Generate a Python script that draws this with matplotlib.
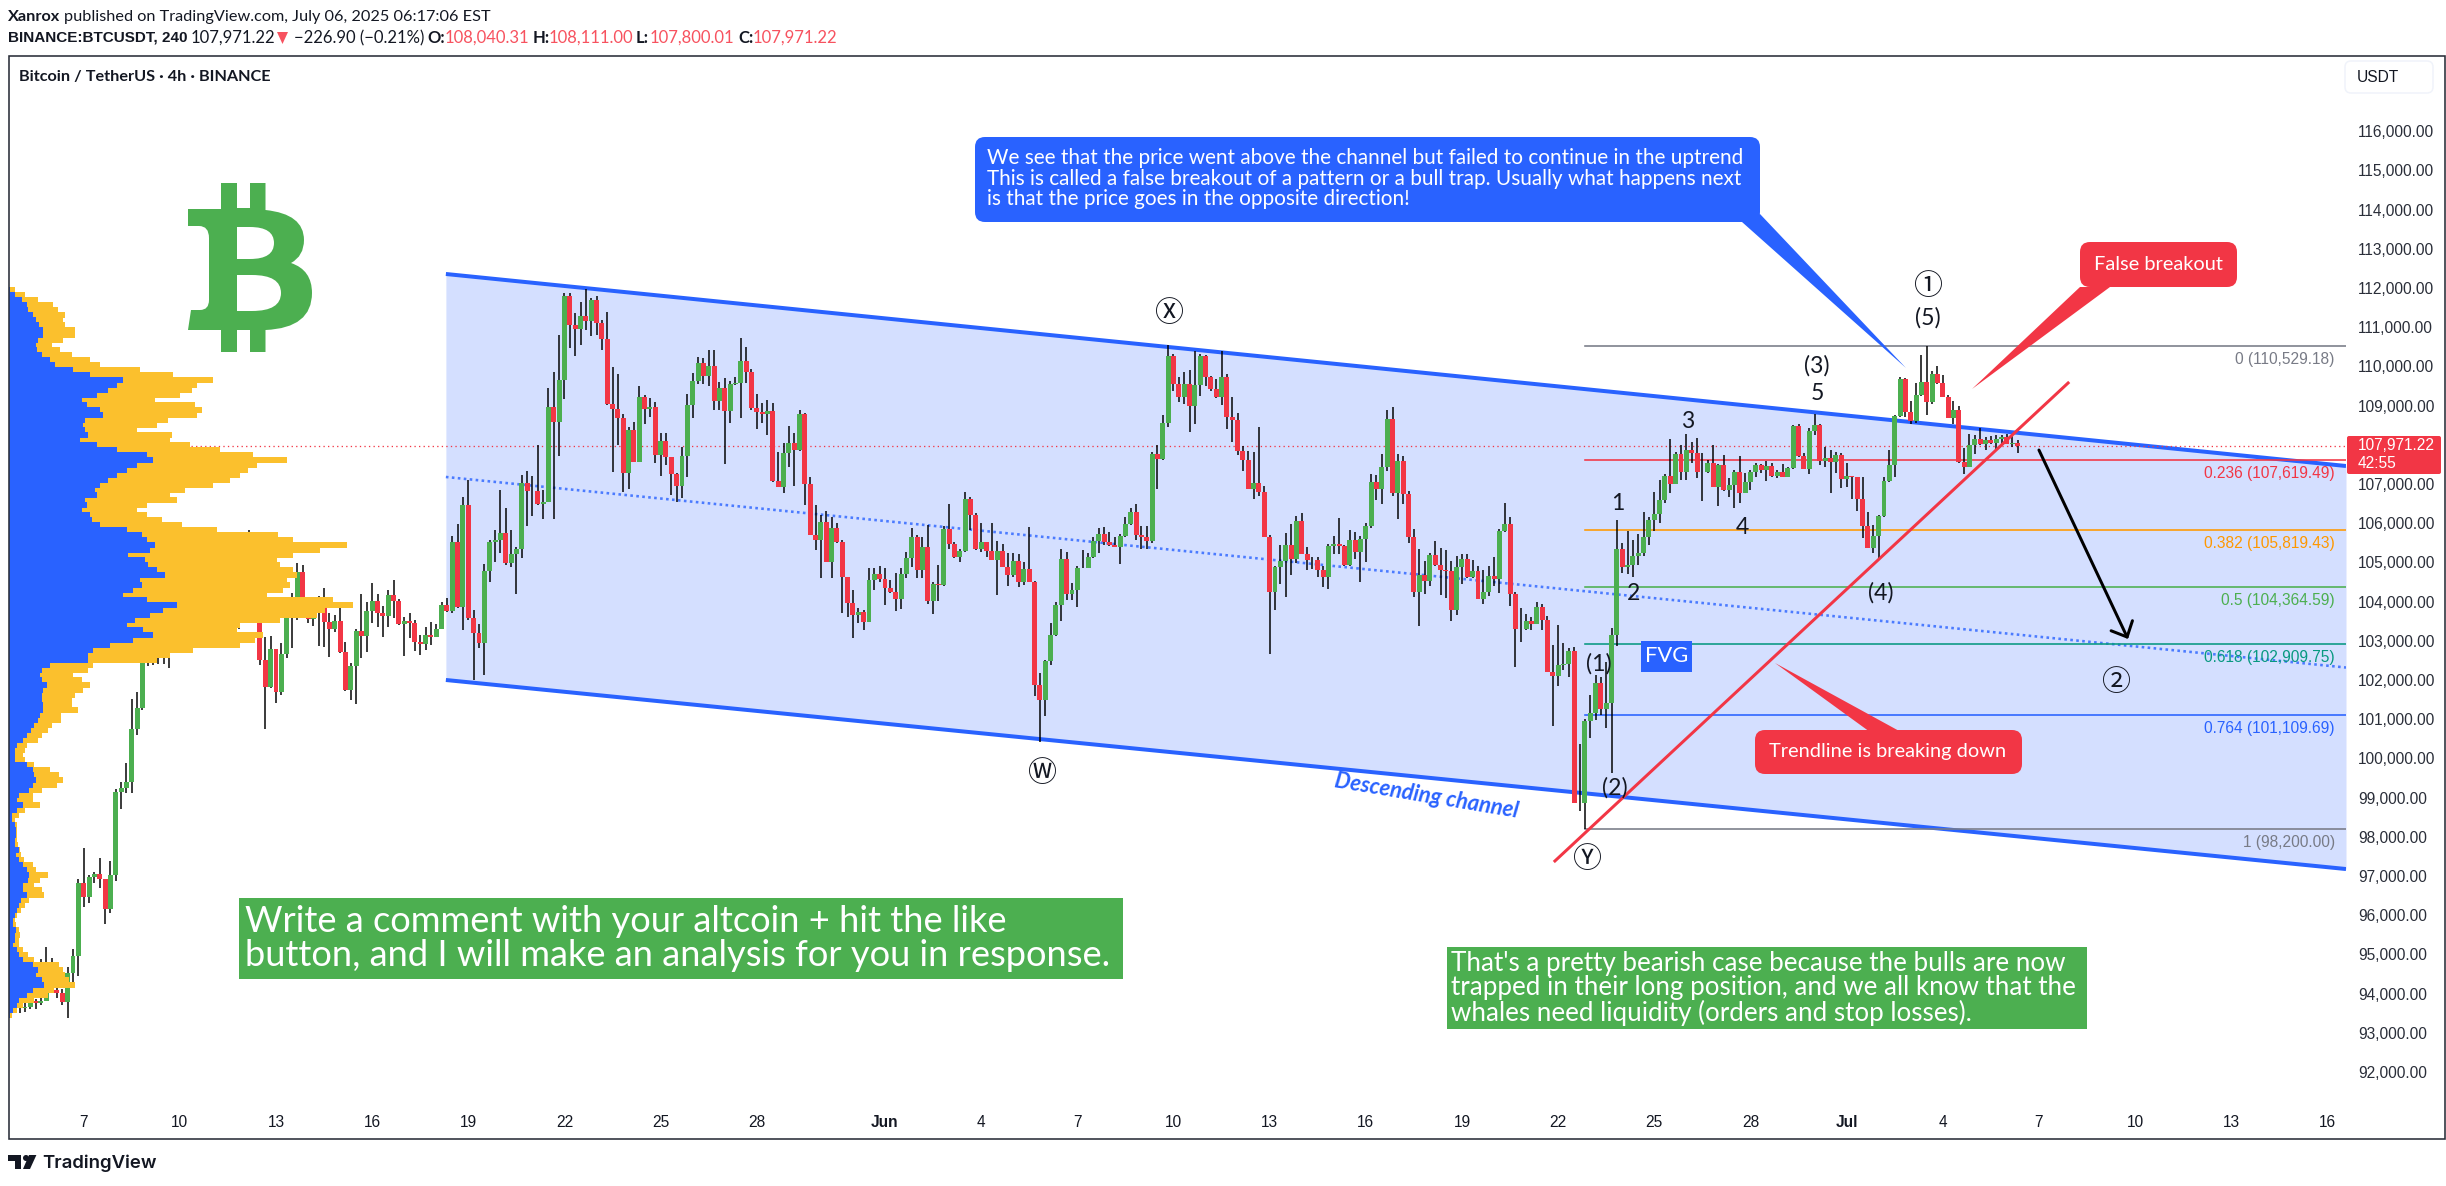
import numpy as np
import matplotlib
matplotlib.use("Agg")
import matplotlib.pyplot as plt
from matplotlib.patches import FancyBboxPatch, Polygon, Rectangle, PathPatch, Circle
from matplotlib.path import Path

# ---------- data: 4h candles, first bar = 5 May (day 4, with 1 May = day 0)
first_day = 4.0
first_open = 93700
close = [
93625,93667,93800,93752,93812,94177,94090,94007,93795,94534,
94960,96830,96473,96975,97051,96915,96150,97017,99135,99237,
99390,100742,101278,102468,102700,103000,103300,103000,102900,103400,
103600,104000,103900,104000,103800,104200,104300,104500,104700,104400,
103900,103700,104200,105000,104800,102510,101830,102791,101703,102664,
103616,104067,104764,104067,103557,103701,103828,103488,103301,103505,
102723,101745,102357,103250,103131,103761,104016,103701,103641,104169,
104024,103429,103505,103446,102978,102927,103148,103097,103301,103914,
103769,105512,103871,106464,103590,103208,102953,104781,105512,105563,
105742,104993,105214,105333,107017,106830,106830,106490,106541,108964,
108590,109644,111796,111047,110954,111286,111158,111694,111098,110707,
109041,108913,108692,107289,108377,107570,109219,108922,108964,107740,
108097,107680,107246,106957,107714,109015,109627,110078,109763,110010,
109126,109440,108871,109551,109576,110138,109866,108930,108837,108794,
108862,107076,106932,107782,108037,107867,108786,107008,105699,105571,
106030,105019,105869,105529,104619,103973,103667,103735,103488,104543,
104704,104577,104355,104245,104067,104696,105104,105640,104806,105393,
104016,104449,104424,105860,105461,105129,105291,106617,106209,105350,
105520,105291,105061,105291,104891,104679,105027,104509,104832,104509,
101873,101490,102485,103148,103913,105087,104203,104296,104866,104860,
105129,105546,105724,105529,105452,105401,105673,105971,106286,105699,
105636,105554,107758,107631,108551,110264,109553,109207,109553,108988,
109526,110264,109717,109417,109216,109726,108715,108642,107850,107622,
106884,107030,106784,105654,104251,104880,105026,105445,105089,106046,
105226,105071,105050,104816,104634,105408,105463,105408,104934,105572,
105271,105590,105936,107048,106866,107431,108660,106775,107585,106756,
105636,104242,104679,104533,105180,104943,104816,104770,103796,104871,
105080,104634,104770,104078,104242,104652,104588,105800,105973,104205,
103295,103290,103495,103440,103859,103541,102201,102110,102384,102402,
102739,98867,98867,100950,101150,101915,101260,101405,103148,105342,
104891,104925,105155,105240,105648,106082,106243,106592,107204,107000,
107765,107315,107867,107799,107315,107306,107527,106932,107485,106847,
106974,107306,106779,107043,107306,107485,107357,107459,107204,107298,
107187,107400,108480,107723,107383,108343,108505,107595,107663,107570,
107740,107128,107204,107187,106609,105929,105376,105674,106184,107068,
107485,108735,109678,108845,108607,109270,109602,109100,109806,109568,
109228,108692,108888,107553,107442,107995,108148,108020,108122,108054,
108148,108190,108020,108037,107971.22]
high = [
93837,93800,93900,93870,94875,95181,94900,94300,94126,94690,
95130,96915,97706,97026,97100,97451,96920,97383,99211,99407,
99891,101507,101694,102900,103300,103400,103700,103500,103400,103700,
104000,104300,104400,104300,104100,104500,104600,104800,104900,104800,
104500,104100,104500,105827,105500,105000,103106,103123,102791,102940,
103660,104210,104976,104925,104126,103828,104143,104339,103701,103659,
103871,102961,102425,103300,104194,104000,104466,104194,103888,104296,
104551,104058,103616,103718,103531,103148,103361,103488,103421,104000,
104084,105674,105980,106660,107102,103786,103429,104960,105572,105830,
106847,106379,105827,105401,107230,107340,107204,107995,106847,109440,
109865,110801,111881,111864,111354,111651,111974,111736,111796,111183,
111388,109976,109806,108786,108462,108573,109500,109270,109185,109100,
108293,108309,107697,107272,107952,109296,109823,110248,110206,110418,
110418,109610,109695,109636,109738,110716,110486,109925,109296,109075,
109143,109058,107825,108037,108480,108293,108888,108820,107170,106464,
106209,106311,106167,105997,105571,104636,104296,103829,103798,104849,
104849,104908,104849,104551,104722,104849,105274,105886,105699,105657,
105954,104509,104934,105937,106490,105529,105333,106787,106660,106269,
105997,105529,105997,105546,105469,105231,105231,105214,105019,105911,
104526,102170,102510,103445,103999,105333,105274,104466,104908,105316,
105231,105656,105869,105895,105784,105657,105716,106167,106379,106490,
105936,105936,107822,108004,108761,110537,110328,109735,109854,109899,
110391,110328,110282,109754,109672,110391,109799,109216,108806,107977,
107841,107813,108460,106939,105700,104907,105454,105754,105973,106183,
106255,105390,105135,105135,104907,105472,105681,106137,105454,105818,
105772,105681,106000,107248,107230,107777,108888,108961,107758,107713,
106820,105845,105344,105044,105244,105545,105363,105317,105044,105162,
105208,105208,105062,104907,104816,104907,105135,105864,106520,106155,
104242,103841,103677,103604,103996,103932,103632,102903,103404,102948,
102812,102830,100370,101000,101617,102128,102085,102468,103318,106082,
105486,105801,105572,105716,106277,106167,106787,107102,107246,108139,
107825,107995,108275,108080,108165,107782,107612,107995,107510,107740,
107145,107357,107714,107272,107357,107527,107510,107595,107527,107357,
107510,107442,108505,108531,107799,108420,108786,108531,107952,107867,
107825,107782,107544,107204,107187,107170,106294,105954,106209,107170,
107867,108760,109738,109695,109126,109568,110291,110529,109891,110010,
109780,109270,109117,108990,107910,108267,108250,108420,108207,108224,
108250,108250,108275,108224,108111]
low = [
93514,93540,93600,93620,93700,93960,94007,93900,93710,93387,
94280,94450,96218,96320,96830,96703,95776,96065,96880,98718,
99109,99109,100597,101240,102357,102380,102400,102400,102298,102800,
103200,103500,103600,103700,103500,103700,104000,104100,104300,104100,
103400,103300,103600,104000,104500,102383,100742,101788,101422,101618,
102553,102825,103531,103700,103463,103386,102868,102851,102596,103235,
102698,101720,101490,101388,102553,102723,103446,103361,103106,103361,
103574,103404,102613,103063,102740,102638,102765,102893,103106,103293,
103744,103718,103846,103276,103530,102000,102808,102128,104509,105002,
105231,104934,104874,104194,105104,105929,106184,106464,106099,106532,
106107,107723,109168,110461,110265,110546,110928,110775,110801,110418,
109016,107315,107995,106804,106881,107553,107553,108531,108718,107527,
107204,107485,106719,106549,106634,107187,108692,109551,109542,109500,
108888,108888,107510,108565,109525,108675,109568,108888,108394,108548,
108250,107060,106915,106779,107425,106949,107850,106464,105699,105316,
104610,105019,104610,105486,103701,103616,103080,103446,103276,103488,
104296,104509,103913,104211,103769,103803,104594,104891,104594,104594,
103939,103675,104016,104407,105350,105121,105019,105265,105827,105316,
105274,105129,105061,104169,104891,104398,104636,104381,104424,104509,
101592,100420,101082,102383,103131,103514,104041,104041,103871,104849,
104849,105104,105248,105444,105418,105384,104959,105657,105954,105571,
105344,105344,105499,106884,107622,108460,109371,109098,109052,108323,
108533,109253,109508,109371,109189,109007,108414,108068,107731,107340,
106866,106610,106684,105636,102675,103786,104452,104114,104679,104980,
105208,104798,104843,104616,104360,104315,105208,105208,104907,104907,
105089,104497,104998,105882,106592,106501,107321,106702,106119,106501,
105499,104114,103386,104206,104388,104907,104178,104087,103513,103659,
104452,104607,104606,104060,103950,104151,104406,104224,105772,103887,
102338,102967,103267,103267,103431,103267,102201,100835,101855,102265,
102083,98850,98666,98200,100512,100980,101107,100767,99619,102876,
104738,104704,104636,104934,105163,105444,105810,105997,106507,106762,
107000,107102,107102,107527,107145,106575,107272,106915,106439,106830,
106677,106379,106507,106779,106847,107187,107272,107085,107187,107145,
107170,107187,107383,107697,107374,107255,108250,107485,107442,106762,
107272,106906,106932,106617,106320,105631,105359,105248,105087,106167,
107043,107187,108701,108701,108531,108565,109245,108760,109041,109551,
109211,108675,108531,107527,107255,107425,107765,107995,107867,108020,
107867,107995,108012,107952,107800]

# volume profile, one row per price bin (blue = buy side width, total = blue + yellow)
vp_top_price = 111949
vp_step = 127.55
vp_blue = [
1,6,13,18,19,24,27,30,34,34,29,27,28,33,41,46,64,81,114,108,
99,88,73,78,91,94,76,74,76,79,71,88,108,138,144,128,118,108,99,91,
86,88,76,78,73,81,83,91,118,133,138,146,141,119,136,139,148,156,131,133,
124,114,138,168,154,141,126,118,134,144,124,101,84,79,79,41,33,31,33,38,
34,33,33,34,34,31,29,25,22,18,14,8,6,6,6,18,24,25,27,24,
20,10,8,14,8,3,3,6,7,7,6,6,10,7,10,14,18,20,19,14,
14,18,12,10,8,6,4,4,7,6,6,4,8,10,14,24,29,27,33,35,
24,18,10,8,4,1]
vp_total = [
6,16,29,44,49,56,54,56,66,66,54,43,51,63,81,91,131,164,204,188,
183,171,146,186,193,188,159,148,128,163,161,181,211,244,278,248,239,231,221,204,
176,161,168,138,128,138,153,173,208,269,284,338,311,284,268,271,284,288,278,281,
274,258,324,344,316,308,271,231,228,254,246,231,184,161,148,84,79,64,73,81,
74,66,63,63,69,52,52,43,39,33,29,18,16,14,16,25,41,50,54,48,
33,24,24,31,16,10,6,8,8,8,8,9,11,12,15,24,27,39,31,25,
33,35,20,16,12,8,6,7,10,11,10,10,14,19,25,50,54,56,60,66,
45,39,25,14,8,3]

# channel and drawing anchors (day, price)
channel_days = [17.30, 76.58]
channel_upper = [112357, 107459]
channel_mid = [107179, 102318]
channel_lower = [102000, 97178]
trend_days = [51.9, 67.91]
trend_prices = [97383, 109577]
forecast_days = [67.0, 69.78]
forecast_prices = [107867, 103046]

fib_start_day = 52.84
fib_levels = [110529.18, 107619.49, 105819.43, 104364.59, 102909.75, 101109.69, 98200.00]
fib_ratios = ["0", "0.236", "0.382", "0.5", "0.618", "0.764", "1"]
fib_colors = ["#787B86", "#F23645", "#FF9800", "#4CAF50", "#089981", "#2962FF", "#787B86"]

last_price = 107971.22
price_ticks = [p for p in range(92000, 117000, 1000) if p != 108000]
date_tick_days = [6, 9, 12, 15, 18, 21, 24, 27, 31, 34, 37, 40, 43, 46, 49, 52, 55, 58, 61, 64, 67, 70, 73, 76]
date_tick_labels = ["7", "10", "13", "16", "19", "22", "25", "28", "Jun", "4", "7", "10", "13", "16", "19", "22", "25", "28", "Jul", "4", "7", "10", "13", "16"]

# ---------- style
GREEN, RED, BLUE = "#4CAF50", "#F23645", "#2962FF"
YELLOW = "#FBC02D"
DARK = "#131722"
UI = "Liberation Sans"
NOTE = "Lato"
px = 0.72  # points per pixel at dpi 100

fig = plt.figure(figsize=(24.46, 11.86), dpi=100, facecolor="white")
W, H = 2446, 1186
pos = [9 / W, 1 - 1139 / H, (2346 - 9) / W, (1139 - 56) / H]
ax = fig.add_axes(pos, zorder=1)
ax.set_xlim(3.67, 76.58)
ax.set_ylim(90291, 117918)
for s in ax.spines.values():
    s.set_visible(False)
ax.set_xticks(date_tick_days, date_tick_labels)
ax.set_yticks(price_ticks, [f"{p:,.2f}" for p in price_ticks])
ax.tick_params(axis="x", length=0, pad=-24 * px, labelsize=15.5 * px, labelcolor=DARK)
ax.tick_params(axis="y", length=0, pad=12 * px, labelsize=15.5 * px, labelcolor="#2A2E39",
               labelleft=False, labelright=True)
for t in ax.get_xticklabels() + ax.get_yticklabels():
    t.set_fontfamily(UI)
for t in ax.get_xticklabels():
    if t.get_text() in ("Jun", "Jul"):
        t.set_fontweight("bold")

# channel
ax.fill_between(channel_days, channel_lower, channel_upper, color=BLUE, alpha=0.2, lw=0, zorder=1)
ax.plot(channel_days, channel_upper, color=BLUE, lw=4 * px, zorder=2, solid_capstyle="butt")
ax.plot(channel_days, channel_lower, color=BLUE, lw=4 * px, zorder=2, solid_capstyle="butt")
ax.plot(channel_days, channel_mid, color=BLUE, lw=2.6 * px, ls=(0, (1, 1.3)), alpha=0.8, zorder=2)

# current price
ax.axhline(last_price, color=RED, lw=1.3 * px, ls=(0, (1, 2.5)), zorder=2)

# fib levels
for lvl, ratio, col in zip(fib_levels, fib_ratios, fib_colors):
    ax.plot([fib_start_day, 76.58], [lvl, lvl], color=col, lw=1.6 * px, zorder=2)
    ax.annotate(f"{ratio} ({lvl:,.2f})", (76.23, lvl), xytext=(0, -13.5 * px), textcoords="offset points",
                ha="right", va="center", color=col, fontsize=15.5 * px, family=UI, zorder=3)

# candles
c = np.array(close, dtype=float)
o = np.r_[first_open, c[:-1]]
days = first_day + np.arange(len(c)) / 6
up = c >= o
ax.vlines(days, low, high, color="black", lw=1.5 * px, zorder=3)
ax.bar(days, c - o, bottom=o, width=0.155, color=np.where(up, GREEN, RED), lw=0, zorder=4)

# trend line, forecast arrow
ax.plot(trend_days, trend_prices, color=RED, lw=3 * px, zorder=5)
ax.annotate("", xy=(forecast_days[1], forecast_prices[1]), xytext=(forecast_days[0], forecast_prices[0]),
            arrowprops=dict(arrowstyle="->,head_length=0.9,head_width=0.85", color="black", lw=3 * px,
                            shrinkA=0, shrinkB=0), zorder=6)

# volume profile above the candles
vp = fig.add_axes(pos, zorder=2, sharey=ax)
vp.patch.set_visible(False)
vp.axis("off")
vp.set_xlim(0, 2337)
vp_prices = vp_top_price - vp_step * np.arange(len(vp_blue))
vp.barh(vp_prices, vp_total, height=vp_step * 1.02, color=YELLOW, lw=0)
vp.barh(vp_prices, vp_blue, height=vp_step * 1.02, color=BLUE, lw=0)

# ---------- overlay in pixel coordinates
ov = fig.add_axes([0, 0, 1, 1], zorder=3)
ov.set_xlim(0, W)
ov.set_ylim(H, 0)
ov.axis("off")
ov.patch.set_visible(False)

ov.add_patch(Rectangle((9, 55.5), 2436, 1083.5, fill=False, ec="#2A2E39", lw=1.6 * px))

def T(x, y, s, size, color=DARK, family=NOTE, weight="normal", ha="left", va="center", **kw):
    return ov.text(x, y, s, fontsize=size * px, color=color, family=family, fontweight=weight, ha=ha, va=va, **kw)

# header
T(8, 17, "Xanrox", 16.3, family=NOTE, weight="bold")
T(64, 17, "published on TradingView.com, July 06, 2025 06:17:06 EST", 16.3, family=NOTE)
T(8, 38, "BINANCE:BTCUSDT, 240", 15.3, family=UI, weight="bold")
T(191, 38, "107,971.22", 16.6, family=NOTE)
ov.add_patch(Polygon([(277, 32), (288, 32), (282.5, 44)], color="#F7525F", lw=0))
T(294, 38, "\u2212226.90 (\u22120.21%)", 16.6, family=NOTE)
for xl, lab, xv, val in [(427, "O:", 445, "108,040.31"), (533, "H:", 549, "108,111.00"),
                         (636, "L:", 650, "107,800.01"), (738, "C:", 753, "107,971.22")]:
    T(xl, 38, lab, 16.6, family=NOTE, weight="bold")
    T(xv, 38, val, 16.6, color="#F7525F", family=NOTE)
T(19, 77, "Bitcoin / TetherUS \u00b7 4h \u00b7 BINANCE", 16.2, family=NOTE, weight="bold")

# USDT button
ov.add_patch(FancyBboxPatch((2345, 61), 88, 32, boxstyle="round,pad=0,rounding_size=6", fc="white", ec="#F0F3FA", lw=1.5 * px))
T(2357, 77, "USDT", 15.5, family=UI)

# last price tag
ov.add_patch(FancyBboxPatch((2347, 436), 94, 38, boxstyle="round,pad=0,rounding_size=2", fc=RED, ec="none"))
T(2358, 446, "107,971.22", 15.5, color="white", family=UI)
T(2358, 464, "42:55", 15.5, color="white", family=UI)

# bitcoin logo
V, C3, Z = Path.MOVETO, Path.CURVE3, Path.CLOSEPOLY
L = Path.LINETO
verts = [(188,209),(221,209),(221,183),(237,183),(237,208),(250,208),(250,183),(265.5,183),(265.5,210)]
codes = [V] + [L] * 8
verts += [(304,214),(304,240),(304,256),(291,263),(312,270),(312,293),(312,328),(265.5,330)]
codes += [C3] * 8
verts += [(265.5,352),(250,352),(250,330),(237,330),(237,352),(221,352),(221,330),(188,330),(191,310),(200,310)]
codes += [L] * 10
verts += [(209,310),(209,300),(209,238),(209,226),(199,226),(188,226),(188,209),(188,209)]
codes += [C3, C3, L, C3, C3, L, L, Z]
verts += [(237,227),(237,259),(250,259),(274,259),(274,243),(274,227),(250,227),(237,227),(237,227)]
codes += [V, L, L, C3, C3, C3, C3, L, Z]
verts += [(237,275),(237,311),(252,311),(281,311),(281,293),(281,275),(252,275),(237,275),(237,275)]
codes += [V, L, L, C3, C3, C3, C3, L, Z]
ov.add_patch(PathPatch(Path(verts, codes), fc=GREEN, ec="none"))

# callouts
def box(x0, y0, x1, y1, col, r=10):
    ov.add_patch(FancyBboxPatch((x0, y0), x1 - x0, y1 - y0, boxstyle=f"round,pad=0,rounding_size={r}", fc=col, ec="none"))

box(975, 137, 1760, 222, BLUE)
ov.add_patch(Polygon([(1906, 368), (1760, 214), (1742, 222)], color=BLUE, lw=0))
for yy, s in zip((158, 179, 199), ("We see that the price went above the channel but failed to continue in the uptrend",
                                   "This is called a false breakout of a pattern or a bull trap. Usually what happens next",
                                   "is that the price goes in the opposite direction!")):
    T(987, yy, s, 20.8, color="white")

box(2080, 242, 2237, 287, RED)
ov.add_patch(Polygon([(1972, 389), (2080, 287), (2110, 287)], color=RED, lw=0))
T(2158, 264, "False breakout", 20, color="white", ha="center")

box(1755, 730, 2022, 774, RED)
ov.add_patch(Polygon([(1775, 663), (1870, 732), (1901, 732)], color=RED, lw=0))
T(1888, 752, "Trendline is breaking down", 20, color="white", ha="center")

ov.add_patch(Rectangle((1641, 641), 51, 31, color=BLUE, lw=0))
T(1666.5, 656, "FVG", 22, color="white", ha="center")

ov.add_patch(Rectangle((239, 898), 884, 81, color=GREEN, lw=0))
T(245, 921, "Write a comment with your altcoin + hit the like", 36.3, color="white")
T(245, 956, "button, and I will make an analysis for you in response.", 36.3, color="white")

ov.add_patch(Rectangle((1447, 947), 640, 82, color=GREEN, lw=0))
for yy, s in zip((963, 988, 1013), ("That's a pretty bearish case because the bulls are now",
                                    "trapped in their long position, and we all know that the",
                                    "whales need liquidity (orders and stop losses).")):
    T(1451, yy, s, 26, color="white")

T(1426, 796, "Descending channel", 22, color=BLUE, ha="center", style="italic", weight="bold", rotation=-9.5, rotation_mode="anchor")

# wave labels
for x, y, s in [(1042, 774, "\u24cc"), (1169, 314, "\u24cd"), (1587, 860, "\u24ce"), (1928, 287, "\u2460"), (2116, 683, "\u2461")]:
    ov.text(x, y, s, fontsize=29 * px, family=["Noto Sans CJK SC", "DejaVu Sans"], ha="center", va="center", color=DARK)
for x, y, s in [(1928, 318, "(5)"), (1817, 366, "(3)"), (1817, 394, "5"), (1688, 421, "3"), (1618, 504, "1"),
                (1742, 528, "4"), (1634, 593, "2"), (1881, 593, "(4)"), (1599, 664, "(1)"), (1615, 788, "(2)")]:
    T(x, y, s, 23, ha="center", color=DARK)

# TradingView logo
ov.add_patch(Polygon([(8.4, 1155), (21, 1155), (21, 1169), (14.5, 1169), (14.5, 1161), (8.4, 1161)], color=DARK, lw=0))
ov.add_patch(Circle((26, 1158), 3, color=DARK, lw=0))
ov.add_patch(Polygon([(36.4, 1155), (30, 1169), (23, 1169), (29, 1155)], color=DARK, lw=0))
T(42, 1163, "TradingView", 18.6, family="Inter", weight="semibold")

fig.savefig("out.png", dpi=100)
